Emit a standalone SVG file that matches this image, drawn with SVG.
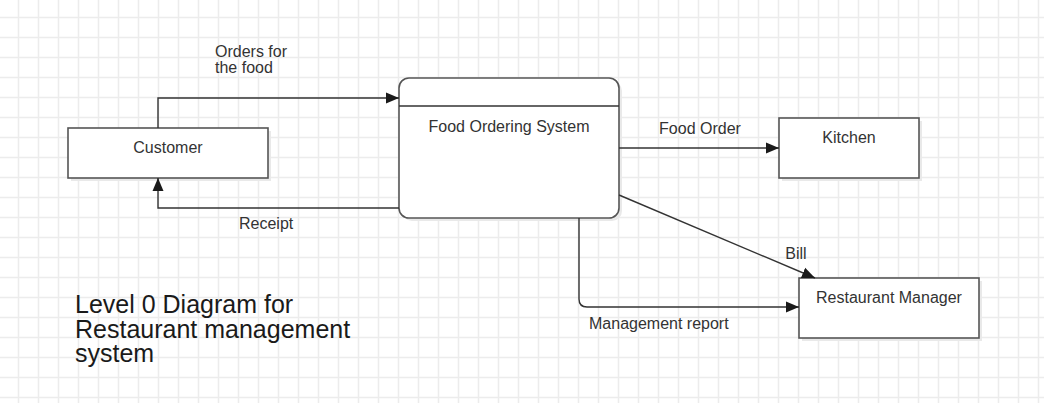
<svg xmlns="http://www.w3.org/2000/svg" width="1044" height="403" viewBox="0 0 1044 403">
<defs>
<pattern id="grid" patternUnits="userSpaceOnUse" width="20" height="20">
<path d="M18.5,0 V20 M0,17.5 H20" fill="none" stroke="#ececec" stroke-width="1.5"/>
</pattern>
<marker id="arr" markerUnits="userSpaceOnUse" markerWidth="13" markerHeight="13" viewBox="0 0 13 13" refX="13" refY="6.5" orient="auto">
<path d="M0,1 L13,6.5 L0,12 z" fill="#1a1a1a"/>
</marker>
</defs>
<style>
.box{fill:#ffffff;stroke:#555555;stroke-width:1.6}
.shadow{fill:#e9e9e9}
.conn{fill:none;stroke:#333333;stroke-width:1.4}
.lbl{font-family:"Liberation Sans",Arial,sans-serif;font-size:16px;fill:#333333}
.title{font-family:"Liberation Sans",Arial,sans-serif;font-size:25px;fill:#1a1a1a}
</style>
<rect width="1044" height="403" fill="#ffffff"/>
<rect width="1044" height="403" fill="url(#grid)"/>

<g id="customer">
<rect class="shadow" x="71" y="131" width="200" height="50"/>
<rect class="box" x="68" y="128" width="200" height="50"/>
<text class="lbl" x="168" y="153" text-anchor="middle">Customer</text>
</g>

<g id="food-ordering-system">
<rect class="shadow" x="402" y="81" width="220" height="140" rx="10"/>
<rect class="box" x="399" y="78" width="220" height="140" rx="10" stroke="#333333"/>
<line x1="399" y1="106" x2="619" y2="106" stroke="#333333" stroke-width="1.4"/>
<text class="lbl" x="509" y="132" text-anchor="middle">Food Ordering System</text>
</g>

<g id="kitchen">
<rect class="shadow" x="782" y="121" width="140" height="60"/>
<rect class="box" x="779" y="118" width="140" height="60"/>
<text class="lbl" x="849" y="143" text-anchor="middle">Kitchen</text>
</g>

<g id="restaurant-manager">
<rect class="shadow" x="802" y="281" width="180" height="60"/>
<rect class="box" x="799" y="278" width="180" height="60"/>
<text class="lbl" x="889" y="303" text-anchor="middle">Restaurant Manager</text>
</g>

<g id="connectors">
<path class="conn" d="M158,128 V98 H399" marker-end="url(#arr)"/>
<path class="conn" d="M399,208 H158 V178" marker-end="url(#arr)"/>
<path class="conn" d="M619,148 H779" marker-end="url(#arr)"/>
<path class="conn" d="M619,195 L815,278" marker-end="url(#arr)"/>
<path class="conn" d="M579,218 V299 Q579,307 587,307 H799" marker-end="url(#arr)"/>
</g>

<g id="labels">
<text class="lbl" x="215" y="57">Orders for</text>
<text class="lbl" x="215" y="73">the food</text>
<text class="lbl" x="239" y="229">Receipt</text>
<text class="lbl" x="700" y="134" text-anchor="middle">Food Order</text>
<text class="lbl" x="796" y="259" text-anchor="middle">Bill</text>
<text class="lbl" x="589" y="329">Management report</text>
</g>

<g id="title">
<text class="title" x="75" y="313">Level 0 Diagram for</text>
<text class="title" x="75" y="337.5">Restaurant management</text>
<text class="title" x="75" y="362">system</text>
</g>
</svg>
